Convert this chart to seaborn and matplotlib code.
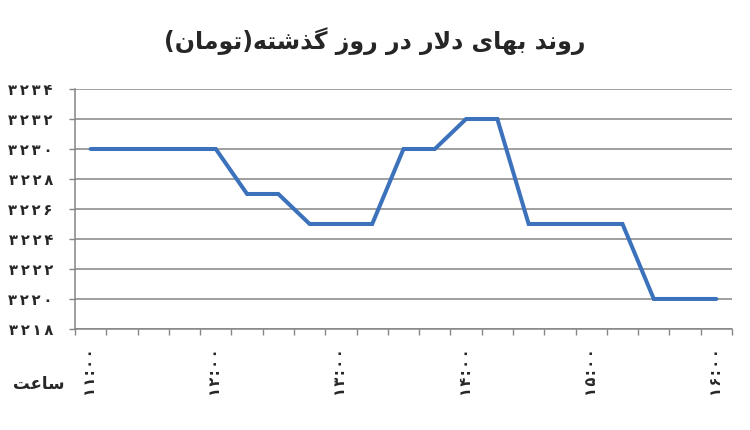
import numpy as np
import pandas as pd
import seaborn as sns
import matplotlib.pyplot as plt
from matplotlib.ticker import FixedLocator

# quarter-hour readings, 11:00 .. 16:00
times = ['11:00', '11:15', '11:30', '11:45', '12:00', '12:15', '12:30', '12:45',
         '13:00', '13:15', '13:30', '13:45', '14:00', '14:15', '14:30', '14:45',
         '15:00', '15:15', '15:30', '15:45', '16:00']
price = [3230, 3230, 3230, 3230, 3230, 3227, 3227, 3225, 3225, 3225, 3230,
         3230, 3232, 3232, 3225, 3225, 3225, 3225, 3220, 3220, 3220]
hour_labels = ['۱۱:۰۰', '۱۲:۰۰', '۱۳:۰۰', '۱۴:۰۰', '۱۵:۰۰', '۱۶:۰۰']
y_ticks = [3218, 3220, 3222, 3224, 3226, 3228, 3230, 3232, 3234]
title = 'روند بهای دلار در روز گذشته(تومان)'
xlabel = 'ساعت'

# matplotlib has no arabic shaping, so pick presentation forms by hand
FORMS = {
    'ا': ('\uFE8D', '\uFE8E'), 'د': ('\uFEA9', '\uFEAA'), 'ذ': ('\uFEAB', '\uFEAC'),
    'ر': ('\uFEAD', '\uFEAE'), 'ز': ('\uFEAF', '\uFEB0'), 'و': ('\uFEED', '\uFEEE'),
    'ب': ('\uFE8F', '\uFE90', '\uFE91', '\uFE92'), 'ت': ('\uFE95', '\uFE96', '\uFE97', '\uFE98'),
    'س': ('\uFEB1', '\uFEB2', '\uFEB3', '\uFEB4'), 'ش': ('\uFEB5', '\uFEB6', '\uFEB7', '\uFEB8'),
    'ع': ('\uFEC9', '\uFECA', '\uFECB', '\uFECC'), 'ل': ('\uFEDD', '\uFEDE', '\uFEDF', '\uFEE0'),
    'م': ('\uFEE1', '\uFEE2', '\uFEE3', '\uFEE4'), 'ن': ('\uFEE5', '\uFEE6', '\uFEE7', '\uFEE8'),
    'ه': ('\uFEE9', '\uFEEA', '\uFEEB', '\uFEEC'), 'ی': ('\uFBFC', '\uFBFD', '\uFBFE', '\uFBFF'),
    'گ': ('\uFB92', '\uFB93', '\uFB94', '\uFB95'),
}


def rtl(s):
    out = []
    i = 0
    while i < len(s):
        c = s[i]
        prev = s[i - 1] if i > 0 else ''
        joins_prev = prev in FORMS and len(FORMS[prev]) == 4
        if c == 'ل' and i + 1 < len(s) and s[i + 1] == 'ا':
            out.append('\uFEFC' if joins_prev else '\uFEFB')
            i += 2
            continue
        if c not in FORMS:
            out.append(c)
            i += 1
            continue
        nxt = s[i + 1] if i + 1 < len(s) else ''
        f = FORMS[c]
        joins_next = nxt in FORMS and len(f) == 4
        if joins_prev and joins_next:
            out.append(f[3])
        elif joins_prev:
            out.append(f[1])
        elif joins_next:
            out.append(f[2])
        else:
            out.append(f[0])
        i += 1
    vis = ''.join(reversed(out))
    return vis.translate(str.maketrans('()', ')('))


def fa_digits(v):
    return str(v).translate(str.maketrans('0123456789', '۰۱۲۳۴۵۶۷۸۹'))


def spaced(s, sep='\u2009'):
    # the reference sets its digits with loose tracking
    return sep.join(s)


sns.set_style('white')
plt.rcParams['font.family'] = ['DejaVu Sans']

df = pd.DataFrame({'time': times, 'price': price})
df['pos'] = np.arange(len(df))

fig = plt.figure(figsize=(7.5, 4.3), dpi=100)
ax = fig.add_axes([0.1, 0.235, 0.876, 0.558])

sns.lineplot(data=df, x='pos', y='price', ax=ax, color='#3c72bb', linewidth=2.9,
             solid_joinstyle='miter', zorder=3)

ax.set_xlim(-0.5, len(times) - 0.5)
ax.set_ylim(y_ticks[0], y_ticks[-1])
ax.set_yticks(y_ticks)
ax.set_yticklabels([spaced(fa_digits(v)) for v in y_ticks], fontsize=10.5, fontweight='bold')
ax.yaxis.grid(True, color='#858585', linewidth=1.1)
ax.tick_params(axis='y', length=4, width=1, color='#858585', pad=12, left=True)

hour_pos = [times.index(h) for h in ['11:00', '12:00', '13:00', '14:00', '15:00', '16:00']]
ax.set_xticks(hour_pos)
ax.set_xticklabels([spaced(h, '\u200a') for h in hour_labels], rotation=90, fontsize=10.5,
                   fontweight='bold')
ax.xaxis.set_minor_locator(FixedLocator(np.arange(len(times) + 1) - 0.5))
ax.tick_params(axis='x', which='major', length=0, pad=14)
ax.tick_params(axis='x', which='minor', length=4, width=1, color='#858585', bottom=True)

for side in ['top', 'right']:
    ax.spines[side].set_visible(False)
for side in ['left', 'bottom']:
    ax.spines[side].set_color('#858585')
    ax.spines[side].set_linewidth(1.1)

ax.set_xlabel('')
ax.set_ylabel('')
fig.text(0.052, 0.108, rtl(xlabel), ha='center', va='center', fontsize=12, fontweight='bold')
fig.text(0.5, 0.905, rtl(title), ha='center', va='center', fontsize=17, fontweight='bold')

fig.savefig('out.png', dpi=100)
